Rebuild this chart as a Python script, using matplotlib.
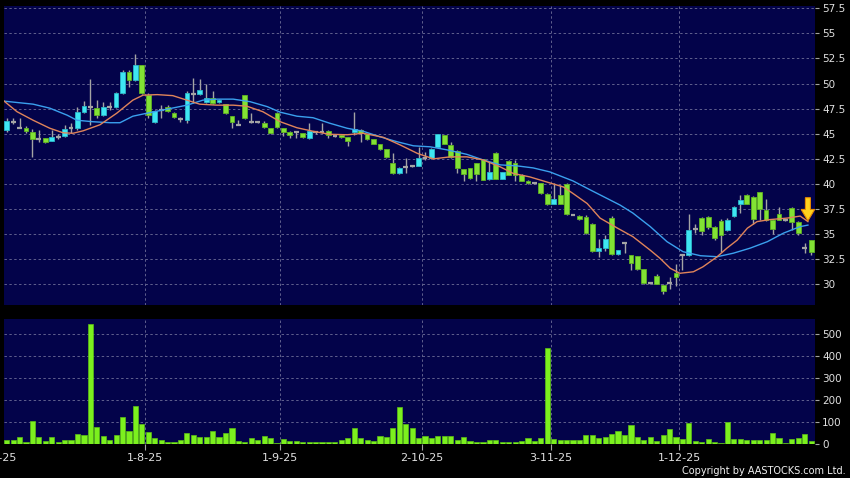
import matplotlib
matplotlib.use("Agg")
import matplotlib.pyplot as plt
from matplotlib.patches import FancyArrow
import numpy as np

# ---------------- data ----------------
opens = [45.35, 46.2, 45.6, 45.55, 45.2, 44.5, 44.55, 44.3, 44.7, 44.8,
         45.55, 45.55, 47.15, 47.7, 47.6, 46.85, 47.65, 47.7, 49.05, 51.2,
         50.35, 51.85, 48.85, 46.2, 47.35, 47.7, 47.05, 46.45, 46.35, 49.0,
         48.95, 48.15, 48.6, 48.2, 47.95, 46.75, 45.9, 48.85, 46.15, 46.15,
         46.05, 45.55, 47.1, 45.55, 45.2, 45.2, 45.05, 44.55, 45.15, 45.2,
         45.3, 44.8, 44.85, 44.65, 45.15, 45.4, 44.95, 44.45, 43.95, 43.45,
         42.05, 41.05, 41.7, 41.8, 41.8, 42.6, 42.6, 43.7, 44.85, 43.9,
         43.3, 41.45, 41.55, 42.05, 42.45, 40.45, 43.1, 40.5, 42.3, 42.05,
         40.9, 40.3, 40.05, 40.05, 39.0, 38.05, 38.85, 40.0, 36.95, 36.85,
         36.75, 36.0, 33.35, 33.65, 36.65, 33.0, 34.1, 32.9, 32.8, 31.5,
         30.1, 30.85, 29.95, 30.15, 31.1, 32.95, 32.9, 35.5, 36.6, 36.75,
         35.7, 36.3, 35.4, 36.8, 38.0, 38.9, 38.75, 39.15, 37.45, 36.45,
         37.05, 36.4, 37.65, 36.25, 33.6, 34.4]
highs = [46.55, 46.6, 46.55, 45.8, 45.5, 45.4, 44.6, 45.4, 45.0, 45.9,
         46.05, 47.7, 48.3, 50.5, 48.4, 48.2, 48.2, 49.2, 51.4, 51.35,
         52.95, 51.9, 49.1, 47.4, 47.85, 47.85, 47.2, 46.7, 49.25, 50.6,
         50.5, 50.0, 49.25, 48.5, 48.0, 46.8, 46.35, 48.9, 47.05, 46.3,
         46.3, 45.6, 47.15, 45.6, 45.25, 45.3, 45.1, 46.05, 45.3, 46.05,
         45.35, 44.9, 44.9, 44.7, 47.15, 45.45, 45.0, 44.5, 44.0, 43.5,
         43.05, 41.65, 42.55, 41.9, 43.7, 43.2, 43.6, 45.0, 44.9, 44.2,
         43.4, 41.5, 41.6, 42.1, 42.5, 42.2, 43.15, 41.2, 42.35, 42.4,
         40.95, 40.35, 40.1, 40.1, 39.05, 40.05, 39.9, 40.05, 37.0, 36.9,
         36.9, 36.15, 34.5, 34.9, 36.8, 33.45, 34.15, 32.95, 32.85, 31.55,
         30.15, 31.0, 30.0, 30.75, 32.0, 33.0, 37.05, 36.0, 36.7, 36.8,
         35.8, 36.5, 36.6, 37.8, 38.9, 38.95, 38.8, 39.2, 38.5, 36.5,
         37.75, 36.5, 37.7, 36.3, 34.1, 34.45]
lows = [45.2, 45.95, 45.6, 45.05, 42.7, 44.2, 44.1, 44.25, 44.5, 44.65,
        45.1, 45.4, 47.1, 45.9, 46.55, 46.8, 47.35, 47.6, 49.0, 49.7,
        50.3, 49.0, 46.55, 46.05, 46.55, 47.2, 46.55, 46.2, 46.05, 48.05,
        48.9, 48.1, 48.0, 48.05, 47.0, 45.55, 45.85, 46.5, 46.1, 46.1,
        45.6, 45.0, 45.6, 44.8, 44.6, 44.6, 44.6, 44.5, 44.95, 45.1,
        44.6, 44.7, 44.6, 43.8, 44.9, 44.2, 44.4, 43.95, 43.4, 42.6,
        41.0, 40.95, 41.05, 41.7, 41.75, 42.4, 42.5, 43.6, 43.95, 42.6,
        41.05, 40.25, 40.5, 40.3, 40.35, 40.4, 40.45, 40.45, 40.85, 40.3,
        40.25, 40.0, 40.0, 39.0, 37.95, 38.0, 38.0, 36.95, 36.9, 36.45,
        35.05, 33.25, 32.75, 33.3, 32.95, 32.95, 33.1, 31.45, 31.45, 30.05,
        30.05, 30.0, 29.05, 29.5, 29.85, 31.45, 32.85, 35.1, 34.9, 35.5,
        34.4, 33.25, 35.3, 36.7, 37.15, 38.0, 36.0, 36.4, 36.3, 35.0,
        36.4, 36.35, 35.4, 34.9, 33.1, 32.9]
closes = [46.25, 46.2, 45.6, 45.3, 44.45, 44.5, 44.15, 44.65, 44.7, 45.5,
          45.55, 47.2, 47.75, 47.7, 46.85, 47.7, 47.65, 49.05, 51.2, 50.35,
          51.85, 49.05, 46.85, 47.3, 47.35, 47.25, 46.65, 46.45, 49.1, 49.0,
          49.35, 48.55, 48.05, 48.35, 47.05, 46.2, 45.9, 46.55, 46.15, 46.15,
          45.65, 45.1, 45.7, 45.2, 44.85, 45.2, 44.65, 45.3, 45.15, 45.2,
          44.9, 44.8, 44.65, 44.3, 45.45, 45.05, 44.45, 44.0, 43.45, 42.7,
          41.05, 41.6, 41.7, 41.8, 42.55, 42.6, 43.45, 44.95, 44.0, 42.7,
          41.55, 40.95, 40.55, 40.95, 40.4, 41.15, 40.5, 41.15, 40.9, 40.9,
          40.3, 40.05, 40.05, 39.05, 38.0, 38.55, 38.05, 37.0, 36.95, 36.5,
          35.1, 33.3, 33.6, 34.5, 33.0, 33.4, 34.1, 32.1, 31.5, 30.1,
          30.1, 30.05, 29.3, 30.15, 30.7, 32.95, 35.4, 35.5, 35.35, 35.75,
          34.6, 34.9, 36.4, 37.75, 38.4, 38.05, 36.5, 37.55, 36.4, 35.5,
          36.45, 36.4, 36.25, 35.1, 33.6, 33.25]
volumes = [18, 18, 29, 6, 103, 31, 12, 28, 8, 15, 14, 43, 38, 546, 74, 34, 15, 38,
           123, 58, 171, 91, 54, 23, 15, 8, 9, 15, 48, 38, 28, 31, 55, 31, 49, 69,
           11, 6, 26, 14, 34, 23, 2, 20, 11, 11, 6, 8, 8, 5, 6, 5, 15, 25, 72, 26,
           15, 11, 35, 29, 72, 165, 89, 72, 23, 34, 26, 35, 35, 35, 18, 29, 11, 6,
           8, 18, 18, 5, 5, 9, 11, 23, 11, 25, 434, 20, 15, 15, 18, 15, 37, 37, 25,
           31, 45, 55, 38, 85, 28, 15, 28, 11, 37, 66, 31, 22, 92, 12, 5, 22, 5, 3,
           97, 22, 22, 14, 18, 15, 15, 49, 23, 3, 20, 26, 43, 12]

# moving averages (x = trading-day index)
ma_short_x = [-0.4, 1.6, 4.1, 6.7, 8.75, 10.3, 11.9, 14.5, 17.1, 19.6, 21.2, 23.4,
              25.8, 28.0, 30.0, 32.7, 35.2, 37.3, 39.8, 42.5, 45.1, 47.6, 50.2,
              52.9, 55.4, 58.5, 61.1, 63.8, 66.3, 68.9, 71.5, 74.0, 76.7, 78.7,
              81.3, 83.9, 86.5, 88.0, 90.2, 92.2, 94.9, 97.3, 100.0, 101.5, 103.1,
              104.6, 106.7, 108.2, 110.4, 111.9, 113.5, 115.1, 116.6, 118.6,
              121.3, 123.3, 124.5]
ma_short_y = [48.25, 47.2, 46.35, 45.55, 45.1, 45.05, 45.3, 45.9, 47.05, 48.35,
              48.85, 48.9, 48.8, 48.35, 47.95, 47.85, 47.85, 47.75, 47.2, 46.2,
              45.6, 45.25, 44.95, 44.9, 45.05, 44.65, 43.9, 43.05, 42.5, 42.7,
              42.7, 42.4, 41.7, 41.05, 40.7, 40.2, 39.7, 39.05, 38.05, 36.6, 35.6,
              34.75, 33.4, 32.6, 31.6, 31.1, 31.25, 31.75, 32.75, 33.6, 34.4,
              35.6, 36.25, 36.45, 36.6, 36.8, 36.25]
ma_long_x = [-0.4, 4.1, 6.7, 9.4, 10.9, 13.4, 16.1, 17.6, 19.6, 21.8, 24.9, 28.0,
             30.5, 32.7, 35.2, 37.8, 40.5, 42.5, 45.1, 47.6, 50.2, 52.9, 55.4,
             58.0, 60.7, 63.2, 65.8, 68.4, 71.5, 74.0, 76.7, 79.3, 81.8, 84.4,
             86.0, 88.0, 90.7, 92.7, 95.3, 97.3, 100.0, 102.6, 105.1, 107.8,
             110.4, 112.9, 115.5, 118.2, 120.7, 123.3, 124.5]
ma_long_y = [48.25, 47.95, 47.55, 46.85, 46.35, 46.2, 46.1, 46.1, 46.75, 47.05,
             47.45, 47.85, 48.35, 48.45, 48.45, 48.2, 47.7, 47.15, 46.75, 46.6,
             46.05, 45.55, 45.25, 44.7, 44.2, 43.8, 43.7, 43.4, 42.95, 42.4,
             41.9, 41.8, 41.6, 41.2, 40.8, 40.3, 39.4, 38.75, 37.9, 37.1, 35.75,
             34.25, 33.25, 32.85, 32.75, 33.1, 33.6, 34.25, 35.1, 35.75, 35.9]

month_start_idx = [0, 22, 43, 65, 85, 105]
month_labels = ["2-7-25", "1-8-25", "1-9-25", "2-10-25", "3-11-25", "1-12-25"]
price_ticks = [30, 32.5, 35, 37.5, 40, 42.5, 45, 47.5, 50, 52.5, 55, 57.5]
vol_ticks = [0, 100, 200, 300, 400, 500]

# ---------------- styling ----------------
BG = "#03034a"
FIG_BG = "#000000"
CYAN = "#3ee6f2"
CYAN_EDGE = "#2bb8c8"
GREEN = "#82e234"
GREEN_EDGE = "#5fb222"
GRAY = "#a4a4a4"
VOL = "#7cf01e"
VOL_EDGE = "#5cc014"
GRID = "#60608e"
TXT = "#e0e0e0"

W, H = 850, 478
fig = plt.figure(figsize=(W / 100, H / 100), dpi=100, facecolor=FIG_BG)
ax = fig.add_axes([4 / W, (H - 305) / H, 811 / W, 299 / H], facecolor=BG)
axv = fig.add_axes([4 / W, (H - 443.5) / H, 811 / W, 124.5 / H], facecolor=BG)

n = len(closes)
x = np.arange(n)
o = np.array(opens); c = np.array(closes)
hi = np.array(highs); lo = np.array(lows)

# wicks
ax.vlines(x, lo, hi, color=GRAY, lw=1.0, zorder=3)
bw = 0.74
up = c > o
dn = c < o
fl = c == o
ax.bar(x[up], (c - o)[up], bottom=o[up], width=bw, color=CYAN,
       edgecolor=CYAN_EDGE, linewidth=0.6, zorder=4)
ax.bar(x[dn], (o - c)[dn], bottom=c[dn], width=bw, color=GREEN,
       edgecolor=GREEN_EDGE, linewidth=0.6, zorder=4)
ax.hlines(c[fl], x[fl] - bw / 2, x[fl] + bw / 2, color=GRAY, lw=1.6, zorder=4)

# moving averages
ax.plot(ma_long_x, ma_long_y, color="#3aa0ee", lw=1.0, zorder=5)
ax.plot(ma_short_x, ma_short_y, color="#e0845a", lw=1.0, zorder=5)

# signal arrow near the last moving-average point
arrow_x = ma_short_x[-1]
arrow = FancyArrow(arrow_x, 38.63, 0, -1.17, width=0.78, head_width=2.1,
                   head_length=1.13, length_includes_head=False,
                   facecolor="#ffd21e", edgecolor="#e88a00", linewidth=0.8,
                   zorder=6)
ax.add_patch(arrow)

# volume
axv.bar(x, volumes, width=0.8, color=VOL, edgecolor=VOL_EDGE, linewidth=0.5,
        zorder=3)

xlim = (-0.42, 125.6)
grid_x = [i - 0.5 for i in month_start_idx]
for a in (ax, axv):
    a.set_xlim(*xlim)
    for s in a.spines.values():
        s.set_visible(False)
    a.yaxis.tick_right()
    a.tick_params(axis="y", colors=GRAY, labelcolor=TXT, length=3, width=0.8,
                  pad=2, labelsize=7.5, direction="out")
    for gx in grid_x[1:]:
        a.axvline(gx, color=GRID, lw=0.7, ls=(0, (2.5, 2.5)), zorder=1)

ax.set_ylim(27.94, 57.73)
ax.set_yticks(price_ticks)
ax.set_yticklabels([f"{t:g}" for t in price_ticks])
for t in price_ticks:
    ax.axhline(t, color=GRID, lw=0.7, ls=(0, (2.5, 2.5)), zorder=1)
ax.set_xticks([])

axv.set_ylim(0, 568)
axv.set_yticks(vol_ticks)
axv.set_yticklabels([str(t) for t in vol_ticks])
for t in vol_ticks[1:]:
    axv.axhline(t, color=GRID, lw=0.7, ls=(0, (2.5, 2.5)), zorder=1)
axv.set_xticks(grid_x[1:])
axv.set_xticklabels(month_labels[1:])
axv.tick_params(axis="x", colors=GRAY, labelcolor=TXT, length=4, width=0.8,
                pad=3, labelsize=8)
axv.set_xlim(*xlim)
# first month label sits partly outside the figure's left edge, as in the original
axv.annotate(month_labels[0], xy=(grid_x[0], 0), xycoords=("data", "axes fraction"),
             xytext=(-4, -7), textcoords="offset points", ha="center", va="top",
             fontsize=8, color=TXT, annotation_clip=False)

fig.text(846 / W, 1 - 471.5 / H, "Copyright by AASTOCKS.com Ltd.", color="#f0f0f0",
         fontsize=7, ha="right", va="center")

fig.savefig("out.png", dpi=100, facecolor=FIG_BG)
